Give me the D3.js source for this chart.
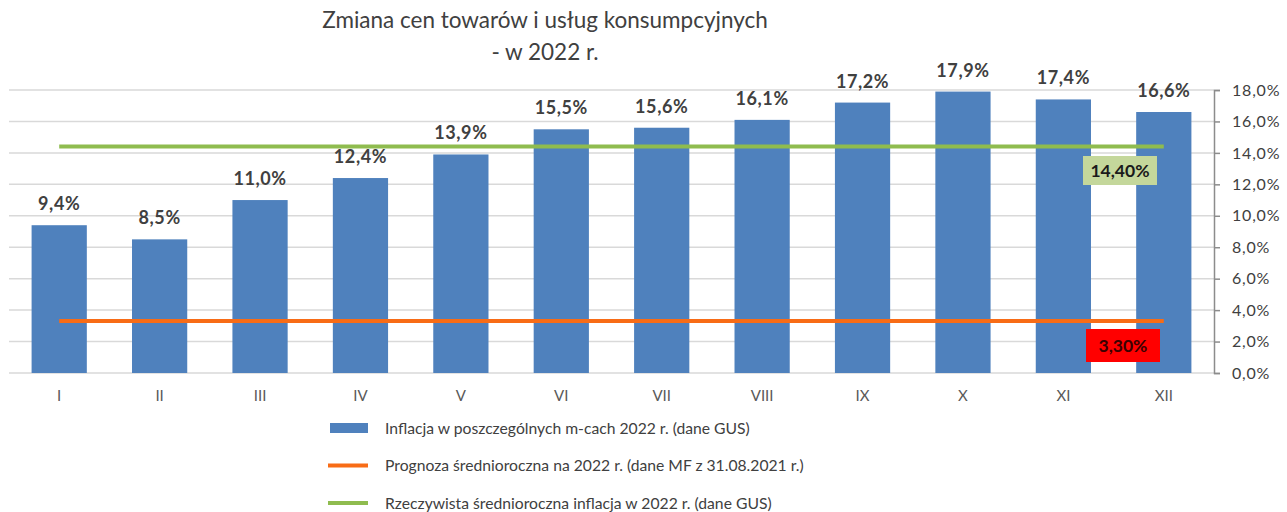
<!DOCTYPE html>
<html><head><meta charset="utf-8">
<script src="https://cdn.jsdelivr.net/npm/d3@7"></script>
<style>body{margin:0;background:#fff}svg{display:block}text{font-family:Lato,"Open Sans",sans-serif}</style>
</head><body><svg id="c" width="1287" height="512"></svg>
<script>
const months = ["I","II","III","IV","V","VI","VII","VIII","IX","X","XI","XII"];
const inflation = [9.4, 8.5, 11.0, 12.4, 13.9, 15.5, 15.6, 16.1, 17.2, 17.9, 17.4, 16.6];
const forecast = 3.3;
const actualAvg = 14.4;
const yTicks = [0,2,4,6,8,10,12,14,16,18];
const titleLines = ["Zmiana cen towarów i usług konsumpcyjnych", "- w 2022 r."];
const legendLabels = ["Inflacja w poszczególnych m-cach 2022 r. (dane GUS)", "Prognoza średnioroczna na 2022 r. (dane MF z 31.08.2021 r.)", "Rzeczywista średnioroczna inflacja w 2022 r. (dane GUS)"];

const svg = d3.select("#c");
const fmt = v => d3.format(".1f")(v).replace(".", ",") + "%";
const fmt2 = v => d3.format(".2f")(v).replace(".", ",") + "%";
const c = {bar:"#4f81bd", orange:"#f86c16", green:"#8fbc4f", text:"#404040"};

const x = d3.scaleBand().domain(months).range([9, 1214]).paddingInner(0.45).paddingOuter(0.225);
const y = d3.scaleLinear().domain([0, 18]).range([373, 90]);

// gridlines
svg.append("g").selectAll("line").data(yTicks).join("line")
  .attr("x1", 9).attr("x2", 1214).attr("y1", d => y(d)).attr("y2", d => y(d))
  .attr("stroke", "#d9d9d9").attr("stroke-width", 1.5);

// bars
svg.append("g").selectAll("rect").data(inflation).join("rect")
  .attr("x", (d,i) => x(months[i])).attr("width", x.bandwidth())
  .attr("y", d => y(d)).attr("height", d => y(0) - y(d)).attr("fill", c.bar);

// data labels
svg.append("g").selectAll("text").data(inflation).join("text")
  .attr("x", (d,i) => x(months[i]) + x.bandwidth()/2).attr("y", d => y(d) - 15)
  .attr("text-anchor", "middle").attr("font-size", 18).attr("font-weight", "bold")
  .attr("letter-spacing", 0.6).attr("fill", c.text).text(fmt);

// reference lines
const xs = x(months[0]) + x.bandwidth()/2, xe = x(months[11]) + x.bandwidth()/2;
svg.append("line").attr("x1", xs).attr("x2", xe).attr("y1", y(actualAvg)).attr("y2", y(actualAvg))
  .attr("stroke", c.green).attr("stroke-width", 4);
svg.append("line").attr("x1", xs).attr("x2", xe).attr("y1", y(forecast)).attr("y2", y(forecast))
  .attr("stroke", c.orange).attr("stroke-width", 4);

// value boxes
svg.append("rect").attr("x", 1083).attr("y", 156).attr("width", 74).attr("height", 29).attr("fill", "#c4d79b");
svg.append("text").attr("x", 1120).attr("y", 177).attr("text-anchor", "middle").attr("font-size", 17.5)
  .attr("font-weight", "bold").attr("fill", "#1a1a1a").text(fmt2(actualAvg));
svg.append("rect").attr("x", 1086).attr("y", 329).attr("width", 74).attr("height", 33).attr("fill", "#ff0000");
svg.append("text").attr("x", 1123).attr("y", 352).attr("text-anchor", "middle").attr("font-size", 17.5)
  .attr("font-weight", "bold").attr("fill", "#3a0000").text(fmt2(forecast));

// right axis
const ya = svg.append("g").attr("transform", "translate(1214,0)")
  .call(d3.axisRight(y).tickValues(yTicks).tickFormat(fmt).tickSize(6).tickPadding(12));
ya.select(".domain").attr("stroke", "#8c8c8c").attr("stroke-width", 1.5);
ya.selectAll(".tick line").attr("stroke", "#8c8c8c").attr("stroke-width", 1.5);
ya.selectAll("text").attr("font-size", 16).attr("letter-spacing", 0.8).attr("fill", c.text).attr("font-family", "Lato, sans-serif");

// x axis labels
const xa = svg.append("g").attr("transform", "translate(0,373)")
  .call(d3.axisBottom(x).tickSize(0).tickPadding(17));
xa.select(".domain").remove();
xa.selectAll("text").attr("font-size", 15).attr("fill", "#595959").attr("font-family", "Lato, sans-serif");

// title
svg.append("g").selectAll("text").data(titleLines).join("text")
  .attr("x", 545).attr("y", (d,i) => 28 + i*32).attr("text-anchor", "middle")
  .attr("font-size", 22.5).attr("fill", c.text).text(d => d);

// legend
const lg = svg.append("g");
legendLabels.forEach((t, i) => {
  const yy = 428 + i*37.5;
  if (i === 0) lg.append("rect").attr("x", 330).attr("y", yy - 5).attr("width", 38).attr("height", 10).attr("fill", c.bar);
  else lg.append("line").attr("x1", 328).attr("x2", 368).attr("y1", yy).attr("y2", yy)
    .attr("stroke", i === 1 ? c.orange : c.green).attr("stroke-width", 4);
  lg.append("text").attr("x", 385).attr("y", yy + 5.5).attr("font-size", 15.7).attr("fill", c.text).text(t);
});
</script></body></html>
